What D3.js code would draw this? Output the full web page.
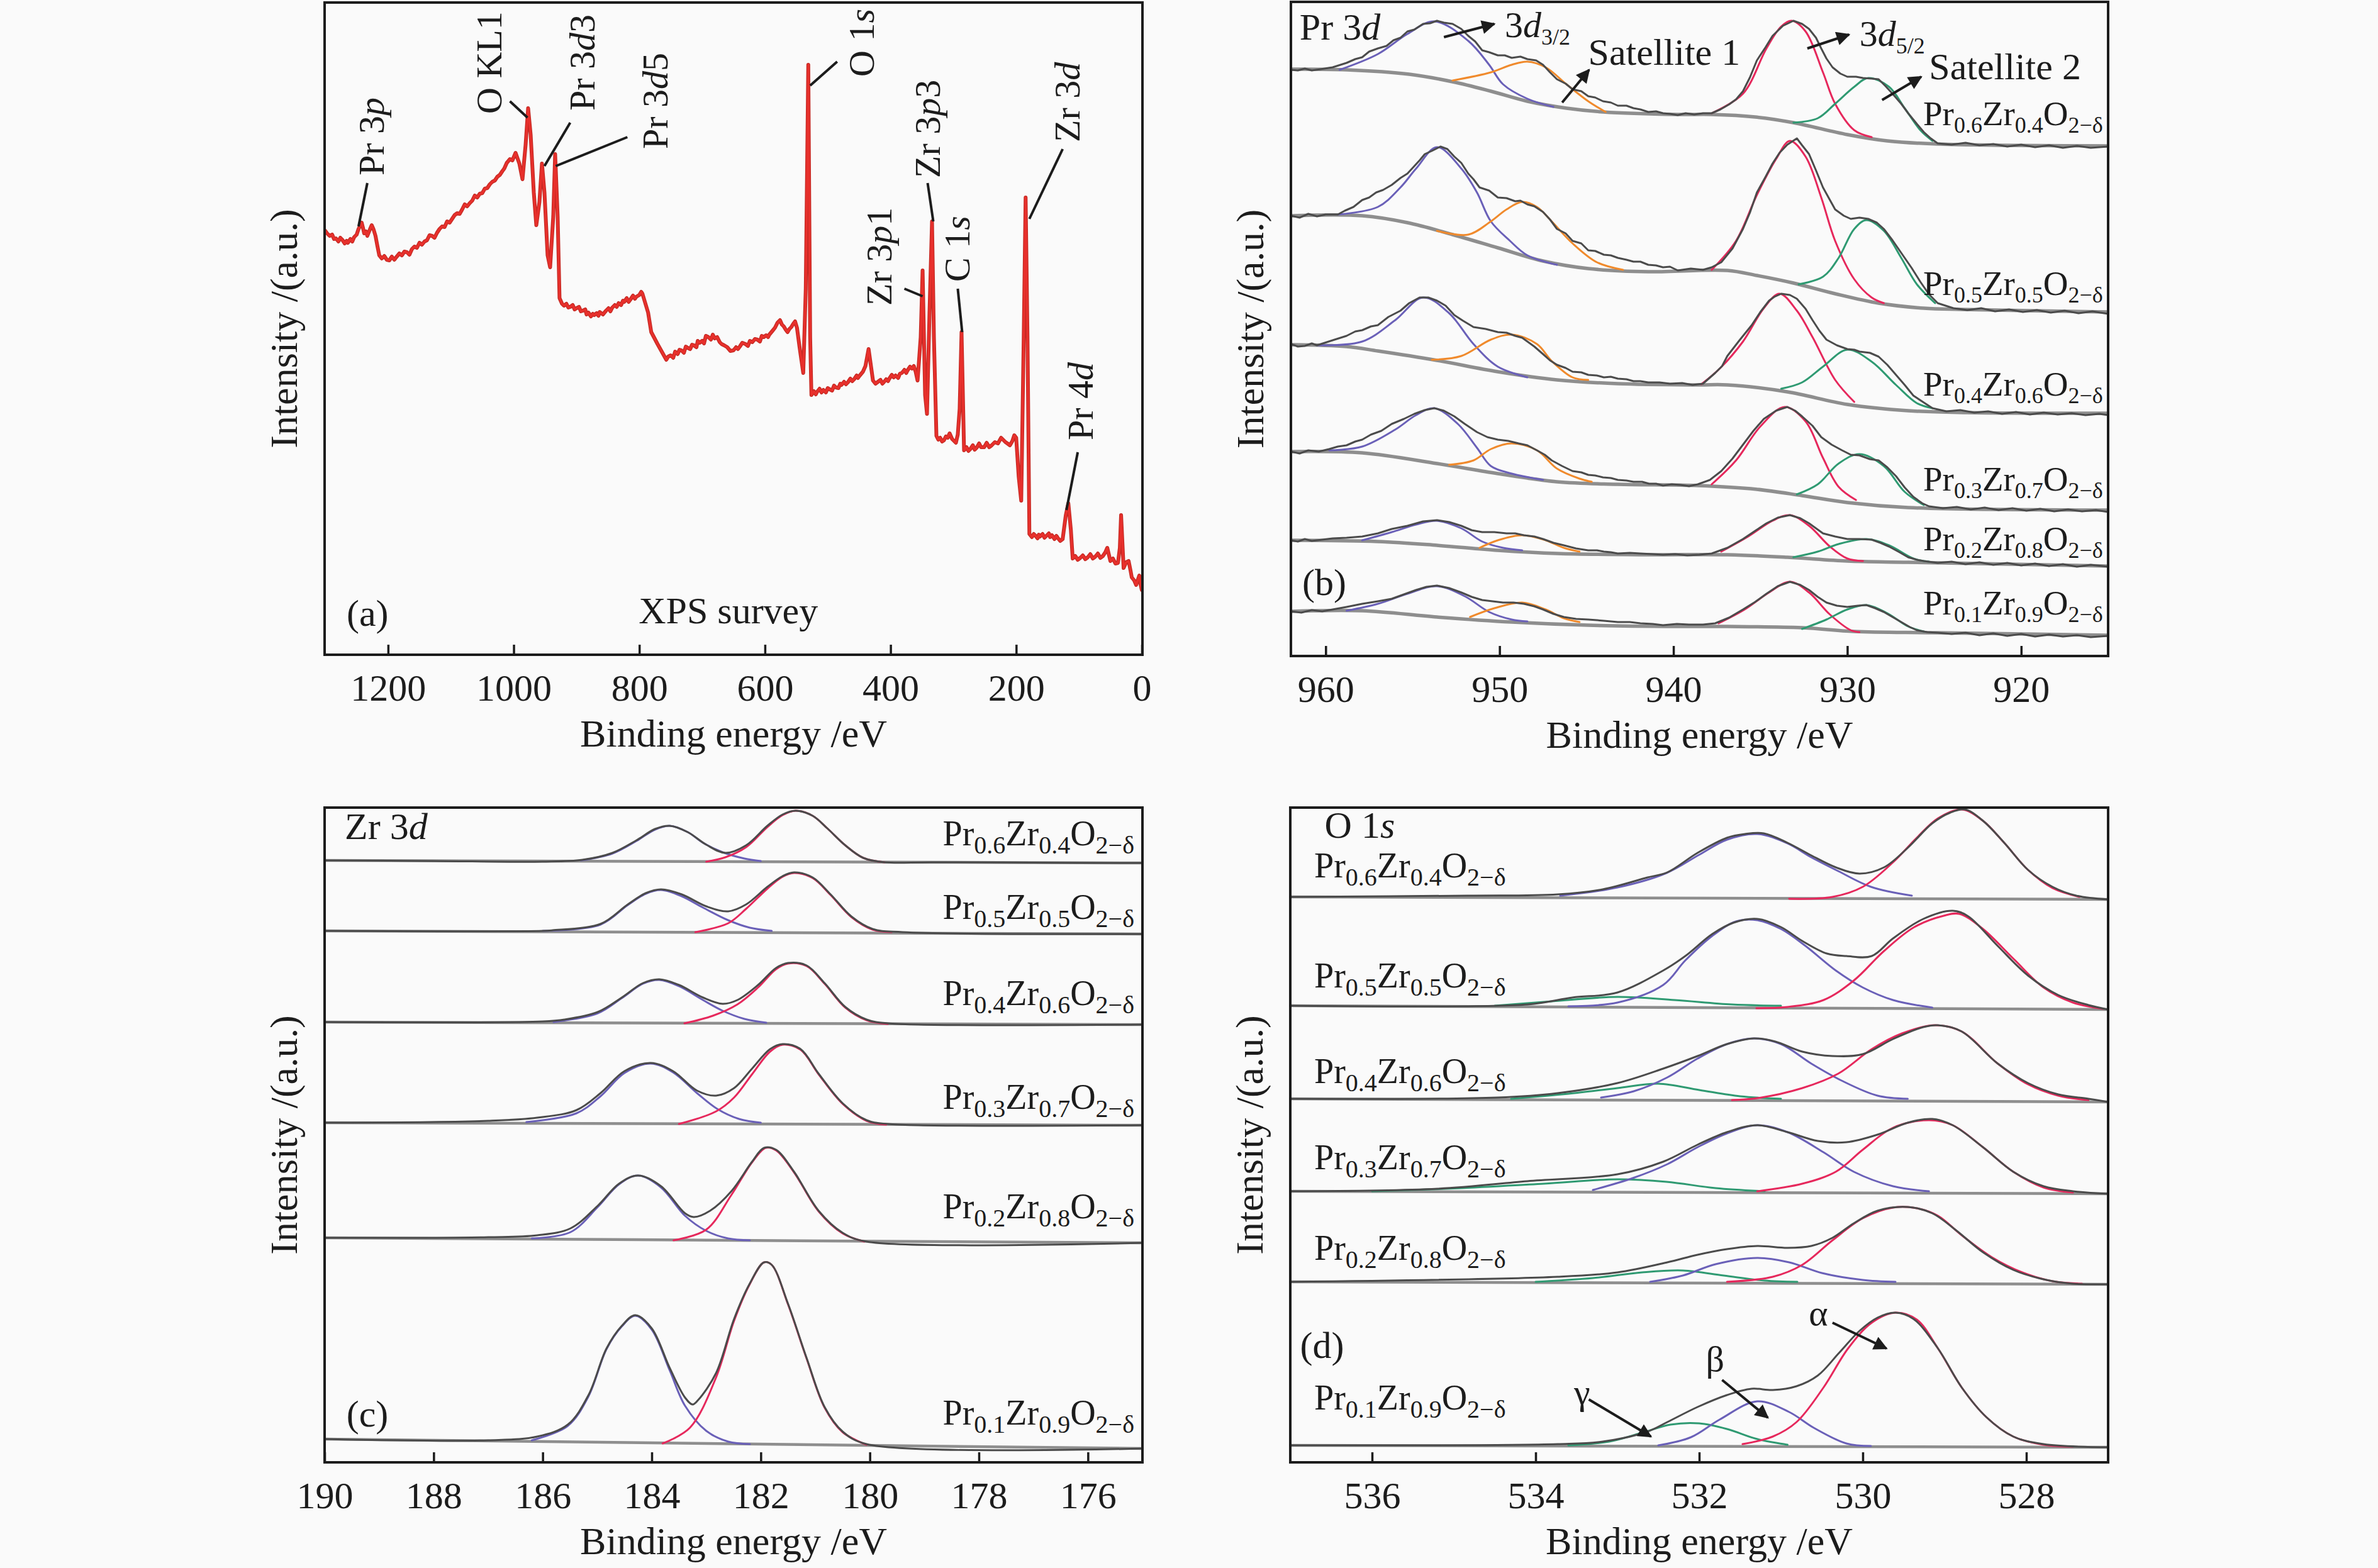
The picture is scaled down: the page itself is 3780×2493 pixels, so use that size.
<!DOCTYPE html>
<html><head><meta charset="utf-8">
<script src="https://cdn.jsdelivr.net/npm/d3@7"></script>
<style>body{margin:0;background:#fafafa}svg{display:block}</style>
</head><body><svg id="chart" width="3780" height="2493"></svg>
<script>
// ---------------- DATA ----------------
const surveyTicks=[1200,1000,800,600,400,200,0];
const prTicks=[960,950,940,930,920];
const zrTicks=[190,188,186,184,182,180,178,176];
const oTicks=[536,534,532,530,528];
const prFrac=["0.6","0.5","0.4","0.3","0.2","0.1"];
const zrFrac=["0.4","0.5","0.6","0.7","0.8","0.9"];

// (a) survey: [binding energy eV, intensity a.u.]
const surveyData=[[1300,674],[1297,670],[1293,666],[1289,668],[1286,661],[1283,662],[1279,657],[1276,663],[1273,660],[1269,654],[1266,658],[1264,655],[1260,661],[1257,657],[1254,664],[1250,668],[1247,677],[1242,687],[1240,679],[1238,670],[1235,673],[1233,666],[1229,676],[1226,683],[1223,676],[1220,666],[1217,650],[1214,635],[1210,630],[1206,634],[1202,628],[1198,627],[1194,633],[1190,628],[1187,632],[1182,638],[1178,635],[1174,641],[1170,640],[1166,636],[1162,645],[1158,649],[1154,647],[1150,655],[1146,652],[1142,657],[1138,659],[1134,667],[1130,666],[1126,663],[1122,671],[1118,677],[1114,681],[1110,680],[1106,689],[1102,687],[1098,693],[1094,699],[1090,702],[1086,701],[1082,708],[1078,716],[1074,713],[1070,718],[1066,722],[1062,730],[1058,727],[1054,733],[1050,734],[1046,741],[1042,742],[1038,748],[1034,752],[1030,754],[1026,760],[1022,763],[1018,769],[1015,773],[1011,782],[1006,788],[1002,786],[997,798],[991,781],[986,756],[981,811],[977,869],[973,827],[968,735],[964,683],[959,720],[955,781],[951,735],[946,635],[942,616],[937,697],[934,796],[930,697],[927,567],[923,558],[920,555],[916,558],[913,552],[910,553],[906,556],[903,549],[900,551],[896,553],[893,546],[890,547],[886,549],[884,541],[881,544],[877,538],[874,542],[872,540],[868,543],[865,539],[863,545],[858,541],[853,547],[849,551],[846,546],[843,552],[839,556],[836,553],[833,559],[829,556],[826,563],[824,561],[820,567],[817,561],[814,565],[810,571],[807,566],[805,569],[800,572],[797,577],[795,574],[786,544],[781,513],[771,494],[757,469],[754,474],[750,476],[746,472],[743,482],[739,478],[736,485],[733,484],[729,480],[726,490],[723,488],[719,486],[716,493],[713,492],[709,489],[707,499],[704,496],[700,499],[697,495],[694,507],[690,505],[686,501],[683,509],[680,503],[676,505],[672,497],[669,494],[665,492],[660,489],[655,483],[650,484],[646,489],[643,486],[640,490],[636,496],[631,494],[627,491],[624,499],[620,497],[616,502],[612,501],[608,498],[605,507],[602,505],[598,508],[595,505],[593,509],[588,515],[584,520],[580,528],[576,532],[573,525],[570,522],[567,517],[564,513],[561,518],[558,521],[555,526],[552,530],[549,520],[545,490],[539,448],[535,582],[531,938],[528,505],[526,413],[522,419],[519,414],[517,418],[513,423],[510,417],[507,421],[503,417],[500,424],[497,422],[493,420],[490,428],[487,425],[483,424],[480,431],[478,429],[474,434],[471,430],[468,433],[464,439],[461,435],[458,438],[454,444],[452,440],[449,444],[444,450],[440,459],[435,486],[428,436],[424,431],[420,434],[416,437],[413,431],[411,433],[407,438],[404,435],[402,439],[398,445],[395,441],[392,444],[388,440],[385,447],[382,448],[378,453],[375,448],[373,452],[369,458],[366,455],[363,459],[360,450],[357,436],[352,505],[349,611],[345,413],[342,383],[338,544],[334,689],[331,505],[327,348],[324,342],[321,345],[318,339],[315,341],[312,347],[309,345],[306,352],[302,343],[299,340],[296,337],[293,350],[290,391],[287,513],[283,325],[279,330],[276,324],[273,327],[269,333],[266,326],[263,329],[259,336],[256,330],[251,330],[247,337],[243,330],[239,333],[234,338],[229,336],[224,345],[221,342],[217,338],[214,336],[210,333],[206,340],[203,349],[200,345],[196,283],[192,245],[188,505],[185,727],[182,505],[179,192],[175,187],[172,192],[170,190],[166,185],[164,191],[162,188],[158,192],[155,186],[152,189],[148,193],[146,187],[143,190],[139,184],[136,189],[134,186],[130,181],[126,184],[121,222],[117,241],[113,199],[110,153],[106,157],[102,151],[98,154],[94,158],[90,152],[86,155],[82,160],[78,153],[74,156],[70,161],[66,154],[62,157],[58,163],[55,170],[50,149],[46,153],[42,145],[38,146],[35,170],[33,222],[31,180],[29,138],[25,147],[21,149],[18,134],[16,123],[12,118],[9,111],[6,120],[4,126],[2,112],[0,103]];

// (b) Pr 3d, six samples (top to bottom: x = 0.6 ... 0.1)
const prRaw=[
[[962.0,932],[961.6,931],[961.2,934],[960.8,931],[960.3,933],[959.6,936],[958.8,943],[958.3,949],[957.9,952],[957.5,961],[957.0,966],[956.5,970],[956.1,979],[955.7,983],[955.3,993],[954.9,996],[954.4,1005],[954.0,1006],[953.6,1010],[953.2,1007],[952.7,1005],[952.2,997],[951.8,986],[951.4,977],[951.0,963],[950.6,960],[950.1,955],[949.7,955],[949.3,951],[948.8,953],[948.4,949],[947.9,947],[947.5,940],[947.1,928],[946.7,917],[946.2,910],[945.8,901],[945.3,898],[944.9,890],[944.5,888],[944.05,882],[943.6,880],[943.2,875],[942.7,875],[942.3,871],[941.9,869],[941.45,865],[941.0,866],[940.6,863],[940.2,862],[939.75,860],[939.3,863],[938.8,861],[938.3,863],[937.8,863],[937.3,869],[936.8,877],[936.4,885],[936.0,898],[935.6,920],[935.2,947],[934.7,968],[934.3,986],[933.7,1002],[933.1,1010],[932.6,1005],[932.2,997],[931.8,983],[931.5,966],[931.2,950],[930.85,936],[930.4,926],[930.0,921],[929.5,921],[929.1,919],[928.6,918],[928.2,917],[927.8,906],[927.4,894],[926.9,878],[926.5,863],[926.0,846],[925.6,833],[925.2,823],[924.8,815],[924.0,813],[923.2,816],[922.4,812],[921.6,814],[920.8,810],[920.0,813],[919.2,809],[918.4,812],[917.6,808],[916.8,811],[916.0,808],[915.0,810]],
[[962,700],[961.5,697],[961.0,703],[960.5,699],[960.0,702],[959.3,702],[958.9,708],[958.4,714],[957.9,725],[957.5,729],[957.1,737],[956.7,741],[956.2,749],[955.7,760],[955.3,767],[954.9,779],[954.6,788],[954.3,798],[953.9,803],[953.4,810],[953.0,806],[952.6,794],[952.2,784],[951.8,767],[951.5,758],[951.15,745],[950.6,740],[950.1,729],[949.6,728],[949.1,723],[948.8,724],[948.4,718],[948.0,715],[947.5,706],[947.1,694],[946.7,679],[946.2,672],[945.8,660],[945.3,656],[944.9,645],[944.5,644],[944.0,638],[943.6,637],[943.2,633],[942.7,630],[942.3,627],[941.9,627],[941.45,622],[941.0,621],[940.6,618],[940.2,619],[939.75,613],[939.0,616],[938.3,614],[937.8,618],[937.25,626],[936.6,648],[936.0,679],[935.6,705],[935.2,737],[934.7,762],[934.3,783],[933.9,800],[933.45,813],[932.9,823],[932.6,812],[932.2,798],[931.8,772],[931.4,745],[931.0,725],[930.7,710],[930.2,700],[929.8,695],[929.3,697],[928.8,695],[928.3,689],[927.9,679],[927.4,661],[926.9,641],[926.3,617],[925.8,595],[925.3,575],[924.8,561],[923.9,553],[923.1,550],[922.3,553],[921.5,548],[920.7,551],[919.9,547],[919.1,550],[918.3,546],[917.5,549],[916.7,545],[915.9,548],[915.0,544]],
[[962,496],[961.6,492],[961.2,493],[960.8,497],[960.5,494],[959.6,502],[958.8,509],[958.3,516],[957.9,518],[957.4,524],[957.0,526],[956.4,539],[955.7,549],[955.2,561],[954.6,570],[954.1,570],[953.6,565],[953.1,557],[952.6,542],[952.1,533],[951.5,523],[950.8,520],[950.1,515],[949.6,514],[949.1,509],[948.7,506],[948.4,500],[948.0,492],[947.5,480],[947.1,470],[946.7,463],[946.2,458],[945.8,452],[945.3,451],[944.9,447],[944.4,446],[944.0,443],[943.6,444],[943.2,441],[942.7,440],[942.3,437],[941.9,437],[941.45,435],[940.8,435],[940.2,433],[939.5,434],[938.9,431],[938.3,433],[937.6,450],[937.2,461],[936.9,477],[936.2,502],[935.5,526],[935.0,547],[934.5,565],[934.2,571],[933.8,576],[933.3,574],[932.9,568],[932.4,552],[932.0,534],[931.6,517],[931.2,503],[930.6,494],[930.0,488],[929.6,487],[929.3,484],[928.7,482],[928.2,476],[927.7,463],[927.2,447],[926.7,431],[926.2,414],[925.6,403],[925.1,394],[924.3,389],[923.5,391],[922.7,387],[921.9,389],[921.1,385],[920.3,388],[919.5,384],[918.7,387],[917.9,384],[917.1,386],[916.3,383],[915.5,385],[915.0,383]],
[[962,325],[961.5,322],[961.0,327],[960.4,325],[959.8,329],[959.3,333],[958.8,335],[958.3,341],[957.9,344],[957.4,352],[956.8,358],[956.2,369],[955.5,377],[954.9,385],[954.3,391],[953.75,394],[953.2,390],[952.6,381],[952.0,369],[951.3,356],[950.7,348],[950.1,344],[949.5,342],[948.9,338],[948.4,335],[947.85,327],[947.4,320],[947.0,311],[946.4,302],[945.8,294],[945.3,292],[944.9,288],[944.5,287],[944.05,284],[943.6,283],[943.2,280],[942.7,279],[942.3,277],[941.8,277],[941.4,274],[941.0,274],[940.6,271],[940.1,273],[939.6,272],[939.1,270],[938.6,273],[937.9,280],[937.25,294],[936.6,314],[936.0,336],[935.4,358],[934.8,377],[934.1,390],[933.45,396],[933.0,390],[932.6,381],[932.0,366],[931.5,348],[930.9,336],[930.3,327],[929.8,320],[929.3,319],[928.7,313],[928.2,311],[927.7,300],[927.2,286],[926.7,268],[926.2,253],[925.7,243],[925.3,238],[924.5,235],[923.7,237],[922.9,233],[922.1,236],[921.3,232],[920.5,235],[919.7,231],[918.9,234],[918.1,230],[917.3,233],[916.5,230],[915.7,232],[915.0,229]],
[[962,184],[961.6,182],[961.2,186],[960.8,183],[960.5,184],[959.6,187],[958.8,188],[957.9,190],[957.0,195],[956.2,202],[955.3,207],[954.4,214],[953.6,216],[952.9,213],[952.2,207],[951.6,200],[951.0,197],[950.3,197],[949.6,195],[949.1,195],[948.6,192],[948.0,190],[947.5,186],[946.9,180],[946.3,176],[945.6,171],[944.9,168],[944.4,168],[944.0,166],[943.6,165],[943.2,163],[942.5,164],[941.9,163],[941.2,162],[940.6,161],[939.9,162],[939.2,160],[938.5,161],[937.8,163],[936.9,172],[936.0,186],[935.3,199],[934.65,211],[934.0,220],[933.3,224],[932.7,219],[932.2,211],[931.8,203],[931.4,195],[930.7,190],[930.0,186],[929.3,186],[928.6,185],[928.1,180],[927.6,174],[927.0,165],[926.5,157],[926.0,153],[925.6,151],[924.8,148],[924.0,150],[923.2,146],[922.4,149],[921.6,145],[920.8,148],[920.0,144],[919.2,147],[918.4,143],[917.6,146],[916.8,142],[916.0,145],[915.0,142]],
[[962,71],[961.4,69],[960.8,73],[960.2,71],[959.6,74],[958.8,78],[957.9,83],[957.0,87],[956.2,91],[955.5,98],[954.8,105],[954.2,110],[953.6,112],[952.9,108],[952.2,101],[951.6,94],[951.0,89],[950.4,87],[949.8,85],[949.2,85],[948.6,83],[948.0,79],[947.5,74],[946.9,67],[946.3,62],[945.6,59],[944.9,58],[944.4,57],[944.0,56],[943.6,55],[943.2,54],[942.5,54],[941.9,52],[941.2,51],[940.6,49],[939.8,51],[939.1,50],[938.3,50],[937.6,52],[936.8,61],[936.0,74],[935.3,86],[934.65,99],[934.0,111],[933.3,118],[932.7,113],[932.2,105],[931.7,94],[931.2,85],[930.6,80],[930.0,78],[929.4,80],[928.9,81],[928.4,76],[927.9,70],[927.4,62],[926.9,54],[926.4,46],[926.0,41],[925.4,38],[924.8,37],[924.0,35],[923.2,37],[922.4,33],[921.6,36],[920.8,32],[920.0,35],[919.2,31],[918.4,34],[917.6,31],[916.8,33],[916.0,30],[915.0,32]]
];
const prBg=[
[[962,933],[958.8,932],[955.2,925],[952.7,913],[950.5,898],[948.4,882],[946.15,871],[944.05,865],[939.75,861],[937.8,861],[935.3,857],[933.1,848],[930.0,829],[927.7,819],[924.8,814],[915,811]],
[[962,700],[957.9,700],[955.3,689],[952.7,670],[950.1,649],[947.5,628],[944.9,616],[941.45,611],[936.9,613],[935.2,605],[933.1,593],[930.7,576],[928.2,561],[925.6,553],[923.4,551],[915,547]],
[[962,495],[958.8,492],[957.0,485],[953.6,470],[950.1,452],[946.7,439],[943.2,433],[938.6,431],[936.9,431],[933.45,420],[930.0,400],[926.5,390],[923.1,387],[915,386]],
[[962,325],[957.9,323],[953.6,306],[950.1,290],[946.7,277],[943.2,273],[938.6,271],[935.2,265],[932.6,255],[930.0,244],[926.5,236],[915,232]],
[[962,184],[957.0,182],[953.6,176],[950.1,168],[946.7,163],[941.45,161],[936.9,161],[933.45,157],[930.0,151],[926.5,149],[915,143]],
[[962,71],[957.9,72],[953.6,62],[949.3,54],[944.9,49],[939.75,47],[936.9,47],[932.6,45],[929.6,39],[924.8,37],[915,33]]
];
const pr3d32=[
[[959.2,932],[957.0,957],[955.3,989],[953.75,1009],[951.8,978],[950.6,940],[949.8,909],[948.4,886],[946.9,873]],
[[959.3,702],[957.0,714],[955.7,745],[954.8,775],[953.6,809],[952.2,775],[951.3,737],[950.5,691],[949.4,660],[948.4,637],[946.7,622]],
[[960.5,494],[957.9,500],[956.0,534],[954.4,570],[952.9,545],[951.5,496],[950.1,460],[948.4,443]],
[[959.8,327],[957.9,333],[956.0,360],[954.8,383],[953.75,394],[952.4,369],[951.3,331],[950.5,302],[949.3,290],[947.5,280]],
[[957.9,184],[956.2,197],[954.8,209],[953.6,215],[952.2,203],[951.0,182],[949.8,172],[948.7,168]],
[[958.8,72],[957.0,83],[955.3,99],[953.6,111],[952.0,95],[950.6,70],[949.3,58],[948.4,55]]
];
const prSat1=[
[[952.7,915],[950.5,928],[949.3,940],[948.4,945],[947.35,936],[946.15,909],[944.9,882],[943.9,865]],
[[953.6,676],[951.8,670],[950.5,691],[949.6,710],[948.7,722],[947.85,714],[947.0,691],[945.8,656],[944.4,626],[942.9,614]],
[[953.9,471],[952.2,477],[950.5,503],[949.3,511],[947.85,496],[947.0,469],[945.8,443],[944.9,439]],
[[952.9,304],[951.5,311],[950.5,329],[949.3,338],[947.85,327],[946.7,298],[945.4,282],[944.7,277]],
[[951.15,172],[950.1,184],[948.7,192],[947.35,184],[946.3,172],[945.4,166]],
[[951.7,62],[950.3,76],[948.7,85],[947.35,74],[946.3,60],[945.4,54]]
];
const pr3d52=[
[[937.8,863],[936.0,894],[934.65,966],[933.8,1001],[933.2,1010],[932.4,993],[931.4,928],[930.7,878],[929.6,836],[928.6,825]],
[[937.8,614],[936.4,660],[935.2,733],[934.1,790],[933.3,819],[932.4,794],[931.5,729],[930.7,660],[929.6,599],[928.6,570],[927.9,561]],
[[938.4,432],[937.3,458],[936.0,500],[934.8,553],[933.9,576],[932.9,549],[932.0,507],[930.7,439],[929.6,404]],
[[937.8,273],[936.4,311],[935.0,365],[933.6,396],[932.4,373],[931.4,315],[930.5,269],[929.5,248]],
[[937.25,166],[935.7,190],[934.3,215],[933.3,224],[932.2,207],[931.0,174],[930.0,155],[929.1,151]],
[[937.4,52],[935.9,74],[934.5,101],[933.3,118],[932.2,101],[931.0,66],[929.8,41],[929.3,38]]
];
const prSat2=[
[[933.1,848],[931.7,855],[930.7,878],[929.6,905],[928.8,919],[927.6,905],[926.7,871],[925.8,836],[925.1,819]],
[[932.8,591],[931.4,603],[930.5,633],[929.6,679],[928.9,693],[927.9,676],[926.9,633],[926.0,591],[924.95,561]],
[[933.8,425],[932.6,435],[931.4,460],[930.0,487],[928.6,468],[927.2,431],[926.0,402],[925.1,394]],
[[932.9,257],[931.7,273],[930.5,306],[929.3,321],[927.9,302],[926.7,261],[925.6,240]],
[[933.1,157],[931.7,166],[930.5,178],[928.9,186],[927.6,176],[926.2,155],[925.3,150]],
[[932.6,43],[931.2,58],[930.0,74],[928.9,81],[927.7,68],[926.5,47],[925.6,39]]
];

// (c) Zr 3d
const zrRaw=[
[[190,957],[188,956],[186,955],[185.27,958],[184.72,969],[184.28,989],[183.94,1007],[183.67,1012],[183.34,1002],[183.0,982],[182.65,969],[182.27,981],[181.88,1012],[181.6,1030],[181.36,1036],[181.05,1028],[180.78,1008],[180.45,981],[180.12,961],[179.73,954],[178.85,954],[175,953]],
[[190,845],[186,845],[185.82,846],[184.94,856],[184.44,887],[184.11,905],[183.83,911],[183.45,903],[183.0,884],[182.6,876],[182.27,887],[181.88,915],[181.6,932],[181.39,938],[181.05,930],[180.72,903],[180.34,868],[179.95,848],[179.4,843],[175,840]],
[[190,700],[186,701],[185.6,704],[184.99,716],[184.55,739],[184.16,762],[183.86,768],[183.5,759],[183.06,739],[182.7,729],[182.43,735],[182.05,759],[181.72,786],[181.5,794],[181.16,790],[180.83,762],[180.45,724],[180.06,704],[179.67,698],[175,696]],
[[190,540],[187,543],[186.1,548],[185.38,560],[184.94,587],[184.5,622],[184.02,635],[183.61,622],[183.17,591],[182.82,583],[182.49,595],[182.16,626],[181.83,657],[181.6,665],[181.27,657],[180.94,618],[180.5,571],[180.06,544],[179.67,538],[175,536]],
[[190,357],[187,358],[186.1,361],[185.49,372],[184.99,408],[184.6,443],[184.25,456],[183.83,439],[183.39,396],[183.23,390],[182.93,400],[182.54,431],[182.16,478],[181.94,500],[181.72,497],[181.39,462],[180.94,400],[180.5,365],[180.06,351],[175,349]],
[[190,37],[187,35],[186.1,41],[185.54,60],[185.16,107],[184.83,181],[184.55,217],[184.3,234],[184.0,213],[183.67,150],[183.39,103],[183.25,92],[183.15,99],[182.82,142],[182.49,228],[182.21,283],[181.94,318],[181.8,314],[181.5,252],[181.16,166],[180.83,88],[180.5,49],[180.06,29],[175,22]]
];
const zrBg=[
[[190,957],[175,953]],[[190,845],[175,840]],[[190,700],[175,696]],
[[190,540],[175,536]],[[190,357],[175,349]],[[190,37],[175,22]]
];
const zr3d32=[
[[185.3,957],[184.72,968],[184.28,988],[183.94,1006],[183.67,1012],[183.34,1002],[183.06,985],[182.7,970],[182.3,960],[182.0,956]],
[[186.0,845],[184.94,855],[184.44,886],[184.11,904],[183.83,910],[183.45,900],[183.06,882],[182.6,862],[182.2,850],[181.8,845]],
[[185.8,700],[184.99,714],[184.55,738],[184.16,761],[183.86,767],[183.5,757],[183.06,735],[182.7,718],[182.3,705],[181.9,699]],
[[186.3,541],[185.38,555],[184.94,582],[184.5,619],[184.02,634],[183.61,620],[183.17,587],[182.8,562],[182.4,546],[182.0,540]],
[[186.2,356],[185.49,366],[184.99,406],[184.6,442],[184.25,456],[183.83,437],[183.39,392],[183.0,368],[182.6,356],[182.2,353]],
[[186.2,35],[185.54,58],[185.16,105],[184.83,180],[184.55,216],[184.3,233],[184.0,211],[183.67,146],[183.39,90],[183.0,50],[182.6,33],[182.2,29]]
];
const zr3d52=[
[[183.0,955],[182.65,962],[182.27,978],[181.88,1010],[181.6,1029],[181.36,1036],[181.05,1028],[180.78,1008],[180.45,981],[180.12,961],[179.73,954]],
[[183.2,843],[182.6,857],[182.27,880],[181.88,912],[181.6,931],[181.39,937],[181.05,929],[180.72,902],[180.34,867],[179.95,847],[179.6,843]],
[[183.4,698],[182.88,710],[182.43,728],[182.05,755],[181.72,784],[181.5,793],[181.16,789],[180.83,761],[180.45,723],[180.06,703],[179.67,697]],
[[183.5,538],[182.82,558],[182.49,580],[182.16,617],[181.83,653],[181.6,664],[181.27,656],[180.94,617],[180.5,570],[180.06,543],[179.7,537]],
[[183.6,353],[183.0,370],[182.54,425],[182.16,477],[181.91,500],[181.72,496],[181.39,461],[180.94,399],[180.5,364],[180.1,351]],
[[183.8,30],[183.3,55],[182.82,135],[182.49,225],[182.21,282],[181.94,318],[181.8,314],[181.5,251],[181.16,165],[180.83,87],[180.5,48],[180.06,28]]
];

// (d) O 1s
const oRaw=[
[[537,899],[534.83,901],[533.73,903],[533.18,911],[532.63,930],[532.39,938],[532.02,969],[531.66,993],[531.44,999],[531.21,1000],[530.92,985],[530.63,965],[530.33,946],[530.04,936],[529.74,946],[529.45,977],[529.15,1016],[528.93,1033],[528.75,1038],[528.53,1020],[528.27,985],[527.98,942],[527.68,915],[527.39,901],[527.0,895]],
[[537,726],[534.1,728],[533.55,739],[533.0,747],[532.44,782],[532.17,805],[531.84,840],[531.58,858],[531.29,864],[531.0,851],[530.74,829],[530.44,809],[530.2,805],[529.89,805],[529.63,833],[529.26,864],[528.9,877],[528.71,868],[528.35,821],[527.98,774],[527.61,743],[527.24,727],[527.0,720]],
[[537,578],[534.47,580],[533.73,587],[533.0,603],[532.44,626],[532.02,646],[531.66,665],[531.33,674],[531.07,669],[530.74,653],[530.37,646],[530.0,649],[529.63,673],[529.26,692],[529.08,695],[528.79,685],[528.35,634],[527.98,603],[527.61,585],[527.24,578],[527.0,573]],
[[537,431],[535.2,435],[534.1,447],[533.0,458],[532.44,478],[532.02,505],[531.66,525],[531.29,536],[530.92,525],[530.55,511],[530.2,509],[529.82,521],[529.45,540],[529.15,546],[528.9,536],[528.53,501],[528.16,462],[527.79,439],[527.43,431],[527.0,427]],
[[537,287],[533.73,295],[533.0,302],[532.39,318],[532.02,330],[531.66,339],[531.29,344],[530.92,341],[530.63,344],[530.37,357],[530.11,380],[529.82,400],[529.45,406],[529.15,396],[528.86,369],[528.53,334],[528.16,306],[527.79,291],[527.43,284],[527.0,283]],
[[537,27],[533.73,29],[533.18,33],[532.63,49],[532.39,64],[532.02,88],[531.66,107],[531.36,117],[531.1,115],[530.81,121],[530.55,138],[530.29,174],[530.04,209],[529.82,230],[529.6,238],[529.38,228],[529.08,181],[528.79,119],[528.49,72],[528.16,41],[527.79,29],[527.0,24]]
];
const oBg=[
[[537,899],[527,895]],[[537,726],[527,720]],[[537,578],[527,573]],
[[537,431],[527,427]],[[537,287],[527,283]],[[537,27],[527,24]]
];
const oAlpha=[
[[530.9,896],[530.37,899],[530.0,915],[529.63,954],[529.34,993],[529.08,1024],[528.79,1038],[528.53,1020],[528.27,985],[527.98,942],[527.68,913],[527.35,899]],
[[531.3,722],[530.92,724],[530.48,735],[530.11,766],[529.74,813],[529.37,851],[529.01,869],[528.82,872],[528.53,848],[528.16,801],[527.79,755],[527.43,731],[527.06,721]],
[[531.6,576],[531.29,579],[530.74,595],[530.3,618],[529.89,657],[529.52,682],[529.12,695],[528.79,685],[528.35,634],[527.98,601],[527.61,583],[527.24,576]],
[[531.29,431],[530.74,443],[530.33,462],[530.0,497],[529.63,532],[529.19,544],[528.9,536],[528.53,501],[528.16,462],[527.79,437],[527.43,429]],
[[531.66,287],[531.1,295],[530.74,314],[530.37,353],[530.0,388],[529.63,405],[529.34,404],[529.08,392],[528.79,361],[528.42,326],[528.05,302],[527.68,288],[527.32,284]],
[[531.47,29],[531.1,41],[530.81,64],[530.48,119],[530.18,181],[529.89,222],[529.6,238],[529.34,227],[529.08,181],[528.79,119],[528.49,72],[528.16,41],[527.79,28],[527.43,25]]
];
const oBeta=[
[[533.7,901],[533.0,914],[532.4,937],[532.0,966],[531.66,990],[531.29,999],[530.92,984],[530.63,962],[530.3,940],[529.9,915],[529.4,901]],
[[533.6,725],[533.0,731],[532.44,759],[532.17,798],[531.84,837],[531.55,860],[531.29,862],[531.0,848],[530.7,821],[530.33,782],[530.0,755],[529.63,735],[529.15,723]],
[[533.2,580],[532.8,590],[532.39,612],[532.02,642],[531.66,665],[531.33,674],[531.0,665],[530.63,634],[530.26,607],[529.82,583],[529.45,578]],
[[533.3,433],[532.81,452],[532.39,474],[532.02,501],[531.66,523],[531.29,536],[530.92,525],[530.48,493],[530.11,462],[529.63,439],[529.19,431]],
[[532.6,287],[532.2,297],[531.8,315],[531.29,325],[530.9,318],[530.5,301],[530.0,290],[529.6,287]],
[[532.5,27],[532.1,40],[531.75,68],[531.29,97],[530.9,80],[530.6,55],[530.2,30],[529.9,26]]
];
const oGamma=[
[],
[[534.5,726],[533.8,733],[533.0,740],[532.3,735],[531.6,728],[531.0,726]],
[[534.3,578],[533.6,586],[533.0,595],[532.5,602],[532.0,592],[531.5,582],[531.0,578]],
[[536.0,431],[534.9,436],[533.9,443],[533.0,450],[532.4,446],[531.8,436],[531.2,431]],
[[534.0,287],[533.3,293],[532.7,302],[532.2,305],[531.7,297],[531.2,289],[530.8,287]],
[[533.6,27],[533.1,33],[532.7,47],[532.35,60],[532.0,62],[531.66,53],[531.29,37],[530.92,28]]
];

// ---------------- DRAWING ----------------
const FONT='"Liberation Serif","Times New Roman",Times,serif';
const INK="#1c1c1c";
const COL={raw:"#4b4b4b",bg:"#8e8e8e",blue:"#6a60b8",orange:"#f08a2c",red:"#e6285c",green:"#2f9a72",survey:"#e8302c"};
const svg=d3.select("#chart");
svg.append("rect").attr("width",3780).attr("height",2493).attr("fill","#fafafa");
const defs=svg.append("defs");
defs.append("marker").attr("id","arr").attr("viewBox","0 0 10 10").attr("refX",9).attr("refY",5)
  .attr("markerUnits","userSpaceOnUse").attr("markerWidth",30).attr("markerHeight",22).attr("orient","auto")
  .append("path").attr("d","M0,0L10,5L0,10Z").attr("fill",INK);

function makePanel(id,frame,xRange,xdom,ydom){
  const [fx0,fy0,fx1,fy1]=frame;
  const x=d3.scaleLinear().domain(xdom).range(xRange);
  const y=d3.scaleLinear().domain(ydom).range([fy1,fy0]);
  defs.append("clipPath").attr("id","clip"+id).append("rect")
    .attr("x",fx0).attr("y",fy0).attr("width",fx1-fx0).attr("height",fy1-fy0);
  const g=svg.append("g");
  const plot=g.append("g").attr("clip-path",`url(#clip${id})`);
  return {g,plot,x,y,frame};
}
function finishPanel(P,ticks){
  const [fx0,fy0,fx1,fy1]=P.frame;
  const ax=d3.axisBottom(P.x).tickValues(ticks).tickSize(-16).tickPadding(30).tickFormat(d3.format("d"));
  const a=P.g.append("g").attr("transform",`translate(0,${fy1})`).call(ax);
  a.select(".domain").remove();
  a.selectAll(".tick line").attr("stroke",INK).attr("stroke-width",3.5);
  a.selectAll(".tick text").attr("font-family",FONT).attr("font-size",60).attr("fill",INK);
  P.g.append("rect").attr("x",fx0).attr("y",fy0).attr("width",fx1-fx0).attr("height",fy1-fy0)
    .attr("fill","none").attr("stroke",INK).attr("stroke-width",4);
  P.g.append("text").attr("x",(fx0+fx1)/2).attr("y",fy1+146).attr("text-anchor","middle")
    .attr("font-family",FONT).attr("font-size",62).attr("fill",INK).text("Binding energy /eV");
  const ly=(fy0+fy1)/2, lx=fx0-44;
  P.g.append("text").attr("transform",`translate(${lx},${ly}) rotate(-90)`).attr("text-anchor","middle")
    .attr("font-family",FONT).attr("font-size",62).attr("fill",INK).text("Intensity /(a.u.)");
}
function draw(P,data,color,width,curve){
  if(!data||!data.length) return;
  const gen=d3.line().x(d=>P.x(d[0])).y(d=>P.y(d[1])).curve(curve||d3.curveCatmullRom.alpha(0.5));
  P.plot.append("path").attr("d",gen(data)).attr("fill","none").attr("stroke",color)
    .attr("stroke-width",width).attr("stroke-linejoin","round").attr("stroke-linecap","round");
}
function rich(g,x,y,parts,fs,opt){
  opt=opt||{};
  const t=g.append("text").attr("x",x).attr("y",y).attr("font-size",fs).attr("font-family",FONT).attr("fill",INK);
  if(opt.anchor) t.attr("text-anchor",opt.anchor);
  if(opt.rotate) t.attr("transform",`rotate(-90,${x},${y})`);
  const ss=opt.sub||fs*0.65, sh=opt.shift||ss*0.33;
  let cur=0;
  parts.forEach(p=>{
    const s=t.append("tspan").text(p[0]);
    const k=p[1]||"";
    let tgt=0;
    if(k.indexOf("sub")>=0){s.attr("font-size",ss);tgt=sh;}
    if(k.indexOf("i")===0) s.attr("font-style","italic");
    if(tgt!==cur){s.attr("dy",tgt-cur);cur=tgt;}
  });
  return t;
}
function formula(g,x,y,i,fs,ss,anchor){
  rich(g,x,y,[["Pr"],[prFrac[i],"sub"],["Zr"],[zrFrac[i],"sub"],["O"],["2\u2212\u03b4","sub"]],fs,{sub:ss,anchor:anchor});
}
function arrow(P,p0,p1,head){
  const l=P.g.append("line").attr("x1",P.x(p0[0])).attr("y1",P.y(p0[1])).attr("x2",P.x(p1[0])).attr("y2",P.y(p1[1]))
    .attr("stroke",INK).attr("stroke-width",4);
  if(head) l.attr("marker-end","url(#arr)");
}

// ----- panel (a) -----
const PA=makePanel("a",[516,4,1816,1041],[517,1815],[1300,0],[0,1037]);
draw(PA,surveyData,"#c42a24",6,d3.curveLinear);
draw(PA,surveyData,COL.survey,3.5,d3.curveLinear);
const surveyNotes=[
 {p:[["Pr 3"],["p","i"]],x:1207,y:762,l:[[1247,681],[1233,750]]},
 {p:[["O KL1"]],x:1020,y:860,l:[[1006,880],[978,854]]},
 {p:[["Pr 3"],["d","i"],["3"]],x:871,y:865,l:[[910,846],[951,777]]},
 {p:[["Pr 3"],["d","i"],["5"]],x:755,y:804,l:[[819,823],[933,777]]},
 {p:[["O 1"],["s","i"]],x:427,y:919,l:[[485,943],[528,905]]},
 {p:[["Zr 3"],["p","i"],["1"]],x:399,y:555,l:[[378,582],[349,570]]},
 {p:[["Zr 3"],["p","i"],["3"]],x:321,y:758,l:[[341,750],[332,689]]},
 {p:[["C 1"],["s","i"]],x:274,y:593,l:[[293,582],[286,513]]},
 {p:[["Zr 3"],["d","i"]],x:99,y:815,l:[[126,804],[179,693]]},
 {p:[["Pr 4"],["d","i"]],x:78,y:341,l:[[102,322],[120,230]]}
];
surveyNotes.forEach(n=>{
  rich(PA.g,PA.x(n.x),PA.y(n.y),n.p,58,{rotate:true});
  arrow(PA,n.l[0],n.l[1],false);
});
rich(PA.g,PA.x(1266),PA.y(46),[["(a)"]],60);
rich(PA.g,PA.x(801),PA.y(50),[["XPS survey"]],60);
finishPanel(PA,surveyTicks);

// ----- panel (b) -----
const PB=makePanel("b",[2052,3,3351,1043],[2052,3351],[962,915],[0,1040]);
prRaw.forEach((raw,i)=>{
  draw(PB,prBg[i],COL.bg,5.5);
  draw(PB,pr3d32[i],COL.blue,3);
  draw(PB,prSat1[i],COL.orange,3);
  draw(PB,pr3d52[i],COL.red,3);
  draw(PB,prSat2[i],COL.green,3);
  draw(PB,raw,COL.raw,3,d3.curveLinear);
});
const prLabelY=[844,574,414,263,168,66];
prLabelY.forEach((v,i)=>formula(PB.g,3057,PB.y(v),i,55,36,"start"));
rich(PB.g,PB.x(961.5),PB.y(980),[["Pr 3"],["d","i"]],60);
rich(PB.g,PB.x(949.7),PB.y(984),[["3"],["d","i"],["3/2","sub"]],58,{sub:36});
arrow(PB,[953.2,984],[950.3,1005],true);
rich(PB.g,PB.x(944.9),PB.y(940),[["Satellite 1"]],60);
arrow(PB,[946.4,880],[944.85,932],true);
rich(PB.g,PB.x(929.3),PB.y(970),[["3"],["d","i"],["5/2","sub"]],58,{sub:36});
arrow(PB,[932.3,966],[929.9,988],true);
rich(PB.g,PB.x(925.3),PB.y(917),[["Satellite 2"]],60);
arrow(PB,[928.0,884],[925.75,921],true);
rich(PB.g,PB.x(961.35),PB.y(97),[["(b)"]],60);
finishPanel(PB,prTicks);

// ----- panel (c) -----
const PC=makePanel("c",[516,1284,1816,2325],[516,1816],[190,175],[0,1041]);
zrRaw.forEach((raw,i)=>{
  draw(PC,zrBg[i],COL.bg,4.5,d3.curveLinear);
  draw(PC,zr3d32[i],COL.blue,3);
  draw(PC,zr3d52[i],COL.red,3);
  draw(PC,raw,COL.raw,3);
});
const zrLabelY=[981,864,727,562,388,60];
zrLabelY.forEach((v,i)=>formula(PC.g,1803,PC.y(v),i,56,40,"end"));
rich(PC.g,PC.x(189.63),PC.y(991),[["Zr 3"],["d","i"]],60);
rich(PC.g,PC.x(189.6),PC.y(57),[["(c)"]],60);
finishPanel(PC,zrTicks);

// ----- panel (d) -----
const PD=makePanel("d",[2051,1284,3351,2325],[2051,3351],[537,527],[0,1041]);
oRaw.forEach((raw,i)=>{
  draw(PD,oBg[i],COL.bg,4.5,d3.curveLinear);
  draw(PD,oGamma[i],COL.green,3);
  draw(PD,oBeta[i],COL.blue,3);
  draw(PD,oAlpha[i],COL.red,3);
  draw(PD,raw,COL.raw,3);
});
const oLabelY=[930,755,603,466,322,84];
oLabelY.forEach((v,i)=>formula(PD.g,2089,PD.y(v),i,56,40,"start"));
rich(PD.g,PD.x(536.58),PD.y(993),[["O 1"],["s","i"]],60);
rich(PD.g,PD.x(536.88),PD.y(166),[["(d)"]],60);
rich(PD.g,PD.x(533.53),PD.y(92),[["\u03b3"]],58);
arrow(PD,[533.35,100],[532.59,41],true);
rich(PD.g,PD.x(531.92),PD.y(145),[["\u03b2"]],58);
arrow(PD,[531.72,131],[531.16,71],true);
rich(PD.g,PD.x(530.66),PD.y(218),[["\u03b1"]],58);
arrow(PD,[530.37,222],[529.71,181],true);
finishPanel(PD,oTicks);
</script></body></html>
